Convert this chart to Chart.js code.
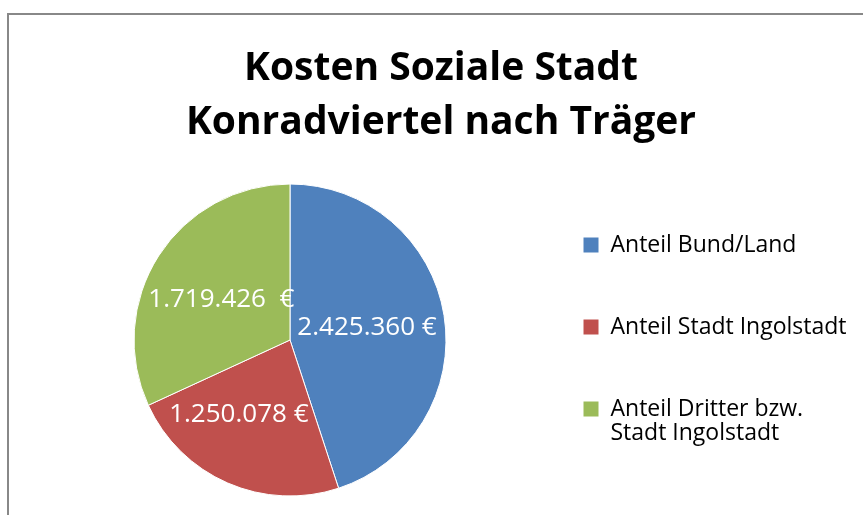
<!DOCTYPE html>
<html>
<head>
<meta charset="utf-8">
<script src="https://cdn.jsdelivr.net/npm/chart.js@4"></script>
<style>
  html, body { margin: 0; padding: 0; background: #fff; overflow: hidden; }
  #frame {
    position: absolute; left: 7px; top: 13px;
    border: 2px solid #888;
    width: 864px; height: 520px;
  }
  canvas { display: block; }
</style>
</head>
<body>
<div id="frame"><canvas id="myChart" width="864" height="520"></canvas></div>
<script>
const titleLines = ['Kosten Soziale Stadt', 'Konradviertel nach Träger'];
const categories = ['Anteil Bund/Land', 'Anteil Stadt Ingolstadt', ['Anteil Dritter bzw.', 'Stadt Ingolstadt']];
const amounts = [2425360, 1250078, 1719426];
const amountSuffix = [' €', ' €', '  €'];
const sliceColors = ['#4F81BD', '#C0504D', '#9BBB59'];

// german thousands separator
const fmt = (v) => String(v).replace(/\B(?=(\d{3})+(?!\d))/g, '.');

// value labels inside the slices
const sliceLabels = {
  id: 'sliceLabels',
  afterDatasetsDraw(chart, args, opts) {
    const ctx = chart.ctx;
    const meta = chart.getDatasetMeta(0);
    ctx.save();
    ctx.font = opts.font;
    ctx.fillStyle = opts.color;
    ctx.textAlign = 'center';
    ctx.textBaseline = 'middle';
    meta.data.forEach((arc, i) => {
      const p = arc.tooltipPosition();
      const shift = opts.shift[i] || [0, 0];
      ctx.fillText(fmt(amounts[i]) + amountSuffix[i], p.x + shift[0], p.y + shift[1]);
    });
    ctx.restore();
  }
};

// fixed legend width so the pie sits where Excel put it,
// then let the legend draw up to the canvas edge (it clips to its box)
const legendWidth = {
  id: 'legendWidth',
  beforeInit(chart) {
    const fit = chart.legend.fit;
    chart.legend.fit = function () {
      fit.call(this);
      this.width = 302;
    };
  },
  afterLayout(chart) {
    const lg = chart.legend;
    lg.right = chart.width;
    lg.width = lg.right - lg.left;
  }
};

const ctx = document.getElementById('myChart').getContext('2d');
new Chart(ctx, {
  type: 'pie',
  data: {
    labels: categories,
    datasets: [{
      data: amounts,
      backgroundColor: sliceColors,
      borderColor: '#ffffff',
      borderWidth: 1,
      radius: 156
    }]
  },
  options: {
    responsive: false,
    animation: false,
    layout: { padding: { top: 26.5, left: 47, right: 47, bottom: 12 } },
    plugins: {
      tooltip: { enabled: false },
      title: {
        display: true,
        text: titleLines,
        color: '#000',
        font: { family: 'Open Sans', size: 39, weight: 'bold', lineHeight: '54px' },
        padding: { top: 0, bottom: 7.5 }
      },
      legend: {
        position: 'right',
        fullSize: false,
        labels: {
          color: '#000',
          font: { family: 'Open Sans', size: 23, lineHeight: '24.5px' },
          boxWidth: 16,
          boxHeight: 16,
          padding: 59
        }
      },
      sliceLabels: {
        font: '26px "Open Sans"',
        color: '#ffffff',
        shift: [[0, 0], [-20, 3], [-3, 2]]
      }
    }
  },
  plugins: [sliceLabels, legendWidth]
});
</script>
</body>
</html>
